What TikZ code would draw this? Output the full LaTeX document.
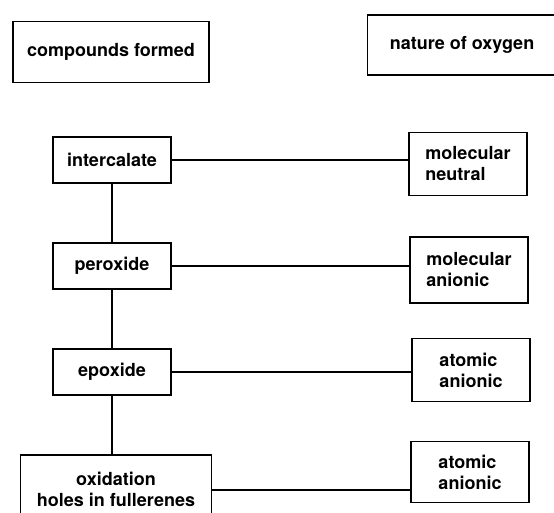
\documentclass[tikz,border=0pt]{standalone}
\usepackage{fontspec}
\setmainfont{TeX Gyre Heros}
\usetikzlibrary{positioning}

\begin{document}
\begin{tikzpicture}[
  x=1pt, y=-1pt,
  node distance=58pt,
  every node/.style={font=\bfseries\fontsize{18}{21}\selectfont},
  head/.style={draw,line width=1.9pt,minimum width=196pt,minimum height=61pt},
  cbox/.style={draw,line width=1.9pt,align=center,minimum width=118pt,minimum height=46pt},
  obox/.style={draw,line width=1.9pt,align=left,minimum width=118pt,minimum height=63pt},
  link/.style={line width=1.7pt}
]
  \useasboundingbox (0,0) rectangle (554,513);
  \clip (0,0) rectangle (554,513);
  % headings
  \node[head] (cmpd) at (111,52) {compounds formed};
  \node[head,minimum width=189pt,minimum height=60pt] (oxy) at (462,45) {nature of oxygen};
  % compounds
  \node[cbox] (intc) at (112,160) {intercalate};
  \node[cbox,below=of intc] (perox) {peroxide};
  \node[cbox,below=of perox] (epox) {epoxide};
  \node[cbox,below=of epox,xshift=4pt,minimum width=191pt,minimum height=70pt] (oxid) {oxidation\\holes in fullerenes};
  % oxygen
  \node[obox] (molneu) at (468,164) {molecular\\neutral};
  \node[obox,minimum height=66pt] (molan) at (469,270) {molecular\\anionic};
  \node[obox] (atan) at (471,370) {atomic\\anionic};
  \node[obox,minimum height=61pt] (atanb) at (470,472) {atomic\\anionic};
  \draw[link] (intc) -- (perox);
  \draw[link] (perox) -- (epox);
  \draw[link] (epox) -- (epox |- oxid.north);
  \draw[link] (intc) -- (intc -| molneu.west);
  \draw[link] (perox) -- (perox -| molan.west);
  \draw[link] (epox) -- (epox -| atan.west);
  \draw[link] (oxid) -- (oxid -| atanb.west);
\end{tikzpicture}
\end{document}
